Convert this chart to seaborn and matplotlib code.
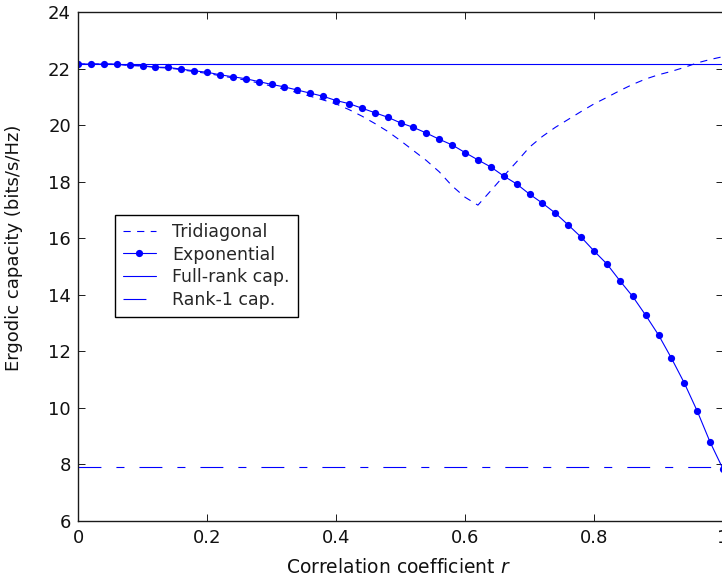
import numpy as np
import pandas as pd
import matplotlib
matplotlib.use("Agg")
import matplotlib.pyplot as plt
import seaborn as sns

# ---- data ----
r = [round(0.02 * i, 2) for i in range(51)]

exponential = [22.16, 22.16, 22.16, 22.16, 22.11, 22.10, 22.05, 22.04, 21.98, 21.92,
               21.87, 21.78, 21.71, 21.64, 21.54, 21.44, 21.35, 21.24, 21.13, 21.02,
               20.87, 20.76, 20.60, 20.44, 20.28, 20.08, 19.92, 19.72, 19.50, 19.30,
               19.03, 18.77, 18.52, 18.20, 17.92, 17.56, 17.24, 16.89, 16.47, 16.04,
               15.55, 15.09, 14.50, 13.94, 13.28, 12.58, 11.76, 10.88, 9.89, 8.79,
               7.84]

tridiagonal = [22.16, 22.16, 22.16, 22.15, 22.11, 22.09, 22.04, 22.02, 21.96, 21.89,
               21.83, 21.75, 21.67, 21.59, 21.49, 21.38, 21.27, 21.15, 21.02, 20.89,
               20.75, 20.55, 20.32, 20.06, 19.78, 19.45, 19.10, 18.75, 18.35, 17.85,
               17.45, 17.17, 17.68, 18.20, 18.70, 19.22, 19.60, 19.92, 20.20, 20.48,
               20.75, 20.98, 21.22, 21.44, 21.63, 21.78, 21.90, 22.04, 22.20, 22.32,
               22.42]

full_rank_cap = 22.16
rank1_cap = 7.9

x_ticks = [0, 0.2, 0.4, 0.6, 0.8, 1]
x_tick_labels = ["0", "0.2", "0.4", "0.6", "0.8", "1"]
y_ticks = [6, 8, 10, 12, 14, 16, 18, 20, 22, 24]

labels = ["Tridiagonal", "Exponential", "Full-rank cap.", "Rank-1 cap."]

# ---- style ----
sns.set_style("ticks", {"xtick.direction": "in", "ytick.direction": "in"})
plt.rcParams["font.family"] = ["DejaVu Sans"]
plt.rcParams["lines.scale_dashes"] = False

blue = "#0000ff"

fig = plt.figure(figsize=(7.22, 5.80), dpi=100)
ax = fig.add_axes([78 / 722, 1 - 521 / 580, (723 - 78) / 722, (521 - 12) / 580])

df = pd.DataFrame({"r": r, "tri": tridiagonal, "exp": exponential})
caps = pd.DataFrame({"r": [0, 1],
                     "full": [full_rank_cap, full_rank_cap],
                     "rank1": [rank1_cap, rank1_cap]})

sns.lineplot(data=df, x="r", y="tri", ax=ax, color=blue, lw=0.8,
             linestyle=(0, (5.2, 4.6)), label=labels[0])
sns.lineplot(data=df, x="r", y="exp", ax=ax, color=blue, lw=0.8,
             marker="o", markersize=5.2, markeredgewidth=0, label=labels[1])
sns.lineplot(data=caps, x="r", y="full", ax=ax, color=blue, lw=0.8,
             label=labels[2])
sns.lineplot(data=caps, x="r", y="rank1", ax=ax, color=blue, lw=0.8,
             linestyle=(0, (16.5, 10.8, 5.8, 10.8)), label=labels[3])

ax.set_xlim(0, 1)
ax.set_ylim(6, 24)
ax.set_xticks(x_ticks)
ax.set_xticklabels(x_tick_labels)
ax.set_yticks(y_ticks)

for s in ax.spines.values():
    s.set_visible(True)
    s.set_linewidth(1.0)
    s.set_color("#1a1a1a")

ax.tick_params(axis="both", which="both", direction="in", length=5, width=0.7,
               colors="#1a1a1a", labelsize=13, labelcolor="#111111",
               top=True, right=True)
ax.tick_params(axis="x", pad=6)
ax.tick_params(axis="y", pad=5)

ax.set_xlabel("Correlation coefficient $\\it{r}$", fontsize=13.5, color="#111111")
ax.set_ylabel("Ergodic capacity (bits/s/Hz)", fontsize=13, color="#111111")
ax.xaxis.set_label_coords(0.497, -0.073)
ax.yaxis.set_label_coords(-0.085, 0.537)

leg = ax.legend(loc="upper left", bbox_to_anchor=(115 / 722, 1 - 215 / 580),
                bbox_transform=fig.transFigure, fontsize=12.5, frameon=True,
                fancybox=False, edgecolor="black", framealpha=1,
                handlelength=1.9, handletextpad=0.95, labelspacing=0.27,
                borderpad=0.45, borderaxespad=0)
leg.get_frame().set_linewidth(1.0)

fig.savefig("out.png", dpi=100)
